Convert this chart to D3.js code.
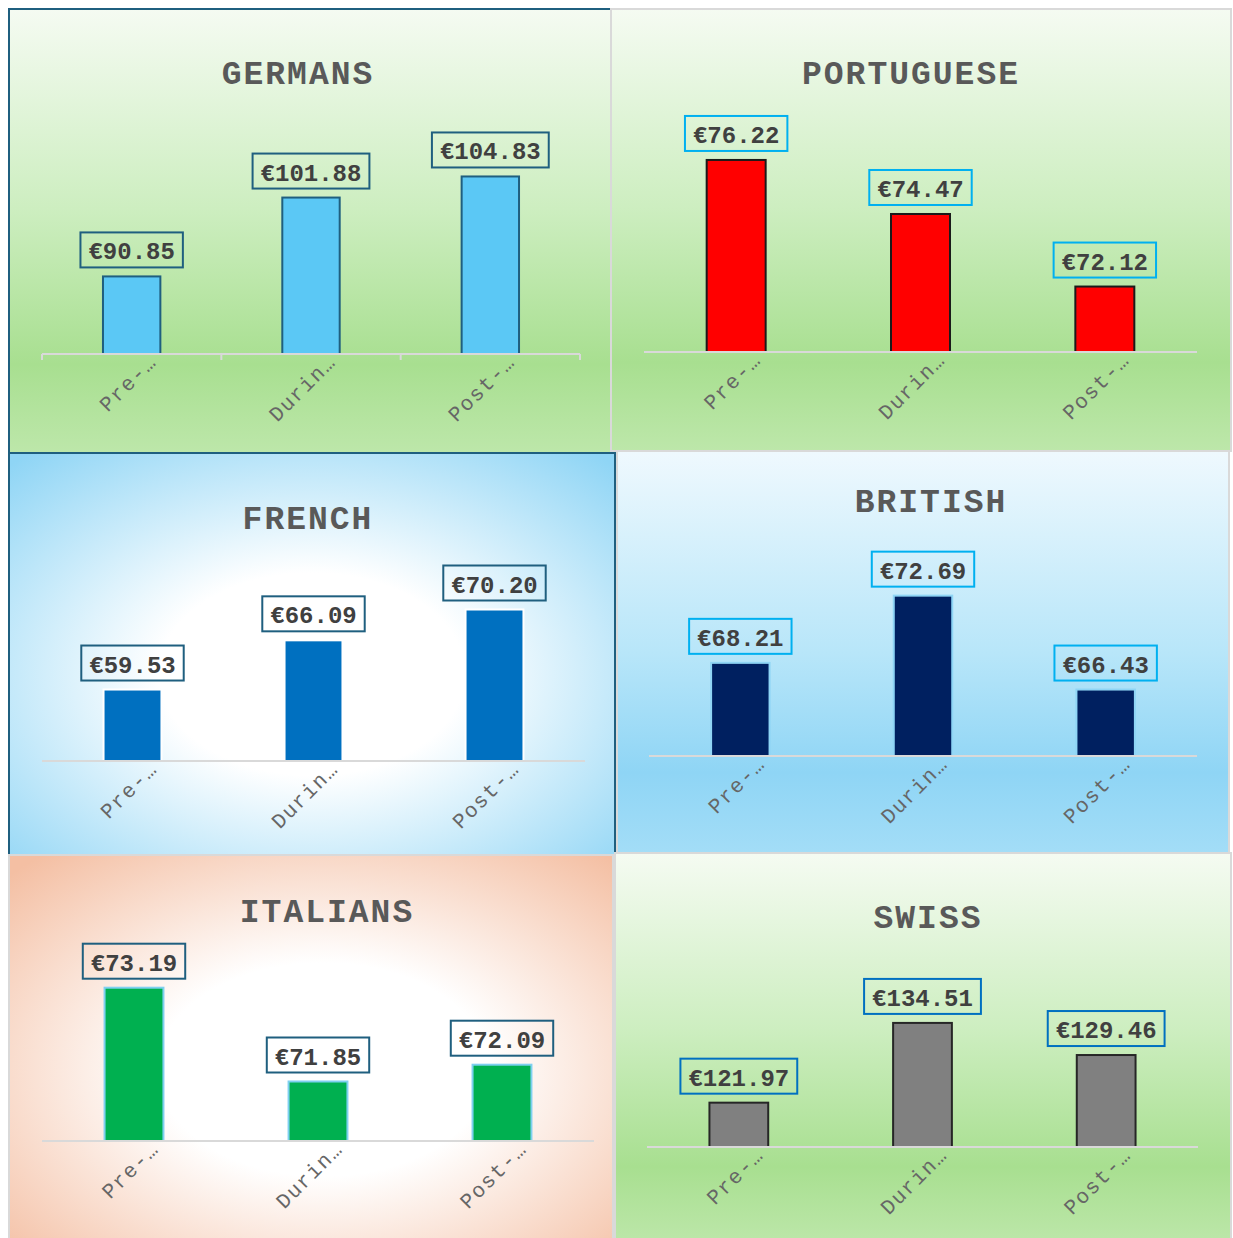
<!DOCTYPE html>
<html>
<head>
<meta charset="utf-8">
<script src="https://cdn.jsdelivr.net/npm/d3@7"></script>
<style>
  body { margin: 0; background: #ffffff; }
  svg { display: block; }
</style>
</head>
<body>
<div id="chartDiv"></div>
<script>
// chart values
var categories = ["Pre-…", "Durin…", "Post-…"];
var panelTitles = ["GERMANS", "PORTUGUESE", "FRENCH", "BRITISH", "ITALIANS", "SWISS"];
var germans = [90.85, 101.88, 104.83];
var portuguese = [76.22, 74.47, 72.12];
var french = [59.53, 66.09, 70.20];
var british = [68.21, 72.69, 66.43];
var italians = [73.19, 71.85, 72.09];
var swiss = [121.97, 134.51, 129.46];
var axisMin = [80, 70, 50, 62, 71, 115];
var axisMax = [110, 78, 75, 74, 73.5, 140];

var seriesList = [germans, portuguese, french, british, italians, swiss];

// layout of each panel (frame, plot area, title position) and look
var panels = [
  { frame: [9, 9, 602, 444], border: "#1f5f7f", bg: "gGreen", plot: [42, 580, 139.5, 354], title: [298, 84],
    fill: "#5bc8f5", stroke: "#1f5f7f", boxStroke: "#1f5f7f", ticks: true },
  { frame: [611, 9, 620, 442], border: "#d9d9d9", bg: "gGreen", plot: [644, 1197, 105, 352], title: [911, 84],
    fill: "#ff0000", stroke: "#1a1a1a", boxStroke: "#00b0f0", ticks: false },
  { frame: [9, 453, 606, 402], border: "#1f5f7f", bg: "gFrench", plot: [42, 585, 573.5, 761], title: [308, 529],
    fill: "#0070c0", stroke: "#ffffff", boxStroke: "#1f5f7f", ticks: false },
  { frame: [617, 451, 612, 402], border: "#d9d9d9", bg: "gBlue", plot: [649, 1197, 576, 756], title: [931, 512],
    fill: "#002060", stroke: "#8fd5f5", boxStroke: "#00b0f0", ticks: false },
  { frame: [9, 855, 604, 390], border: "#d9d9d9", bg: "gItaly", plot: [42, 594, 966, 1141], title: [327, 922],
    fill: "#00b050", stroke: "#7fd0f0", boxStroke: "#1f5f7f", ticks: false },
  { frame: [615, 853, 616, 392], border: "#d9d9d9", bg: "gGreen", plot: [647, 1198, 988, 1147], title: [928, 928],
    fill: "#808080", stroke: "#262626", boxStroke: "#0070c0", ticks: false }
];

var svgWidth = 1233;
var svgHeight = 1238;
var monoFont = "'Courier New', 'Liberation Mono', monospace";

var svg = d3.select('#chartDiv')
            .append('svg')
            .attr('width', svgWidth)
            .attr('height', svgHeight);

// Backgrounds
var defs = svg.append('defs');

function linearBg(id, stops) {
    var g = defs.append('linearGradient')
                .attr('id', id)
                .attr('x1', 0).attr('y1', 0).attr('x2', 0).attr('y2', 1);
    stops.forEach(function(s) {
        g.append('stop').attr('offset', s[0]).attr('stop-color', s[1]);
    });
}
function radialBg(id, cx, cy, r, stops) {
    var g = defs.append('radialGradient')
                .attr('id', id)
                .attr('cx', cx).attr('cy', cy).attr('r', r);
    stops.forEach(function(s) {
        g.append('stop').attr('offset', s[0]).attr('stop-color', s[1]);
    });
}
linearBg('gGreen', [[0, "#f5fbf2"], [0.45, "#cdeec0"], [0.8, "#a8df90"], [1, "#bde7aa"]]);
linearBg('gBlue', [[0, "#eff9fe"], [0.5, "#b8e6f9"], [0.8, "#8fd5f5"], [1, "#a3ddf7"]]);
radialBg('gFrench', 0.5, 0.55, 0.72, [[0, "#ffffff"], [0.35, "#ffffff"], [1, "#8fd5f5"]]);
radialBg('gItaly', 0.52, 0.55, 0.72, [[0, "#ffffff"], [0.38, "#ffffff"], [1, "#f4bfa3"]]);

panels.forEach(function(p, i) {
    var values = seriesList[i];
    var g = svg.append('g').attr('class', 'panel');

    // frame
    g.append('rect')
     .attr('x', p.frame[0]).attr('y', p.frame[1])
     .attr('width', p.frame[2]).attr('height', p.frame[3])
     .attr('fill', 'url(#' + p.bg + ')')
     .attr('stroke', p.border)
     .attr('stroke-width', 2);

    // title
    g.append('text')
     .attr('x', p.title[0]).attr('y', p.title[1])
     .attr('text-anchor', 'middle')
     .style('font-family', monoFont)
     .style('font-weight', 'bold')
     .style('font-size', '33px')
     .style('letter-spacing', '2px')
     .style('fill', '#595959')
     .text(panelTitles[i]);

    var x = d3.scaleBand()
              .domain(categories)
              .range([p.plot[0], p.plot[1]])
              .paddingInner(0.68)
              .paddingOuter(0.34);
    var y = d3.scaleLinear()
              .domain([axisMin[i], axisMax[i]])
              .range([p.plot[3], p.plot[2]]);

    // bars
    g.selectAll('.bar')
     .data(values)
     .enter()
     .append('rect')
     .attr('class', 'bar')
     .attr('x', function(d, j) { return x(categories[j]); })
     .attr('y', function(d) { return y(d); })
     .attr('width', x.bandwidth())
     .attr('height', function(d) { return y(axisMin[i]) - y(d); })
     .attr('fill', p.fill)
     .attr('stroke', p.stroke)
     .attr('stroke-width', 2);

    // x axis line
    var axisY = y(axisMin[i]);
    g.append('line')
     .attr('x1', p.plot[0]).attr('x2', p.plot[1])
     .attr('y1', axisY).attr('y2', axisY)
     .attr('stroke', '#d9d9d9')
     .attr('stroke-width', 2);

    if (p.ticks) {
        var tickXs = categories.map(function(c) { return x(c) - x.step() * x.paddingInner() / 2; });
        tickXs.push(p.plot[1]);
        g.selectAll('.tick')
         .data(tickXs)
         .enter()
         .append('line')
         .attr('x1', function(d) { return d; })
         .attr('x2', function(d) { return d; })
         .attr('y1', axisY).attr('y2', axisY + 6)
         .attr('stroke', '#d9d9d9')
         .attr('stroke-width', 2);
    }

    // category labels
    g.selectAll('.cat')
     .data(categories)
     .enter()
     .append('text')
     .attr('class', 'cat')
     .attr('text-anchor', 'end')
     .attr('transform', function(c) {
         var cx = x(c) + x.bandwidth() / 2 + 26;
         return 'translate(' + cx + ',' + (axisY + 9) + ') rotate(-45)';
     })
     .style('font-family', monoFont)
     .style('font-size', '21px')
     .style('letter-spacing', '1.5px')
     .style('fill', '#666666')
     .text(function(c) { return c; });

    // data labels with boxes
    var labels = g.selectAll('.lbl')
                  .data(values)
                  .enter()
                  .append('g')
                  .attr('class', 'lbl');
    labels.append('rect');
    labels.append('text')
          .attr('x', function(d, j) { return x(categories[j]) + x.bandwidth() / 2; })
          .attr('y', function(d) { return y(d) - 17; })
          .attr('text-anchor', 'middle')
          .style('font-family', monoFont)
          .style('font-weight', 'bold')
          .style('font-size', '24px')
          .style('fill', '#404040')
          .text(function(d) { return '€' + d3.format('.2f')(d); });
    labels.each(function(d) {
        var t = d3.select(this).select('text');
        var w = t.node().getComputedTextLength() + 16;
        var cx = +t.attr('x');
        d3.select(this).select('rect')
          .attr('x', cx - w / 2)
          .attr('y', y(d) - 44)
          .attr('width', w)
          .attr('height', 35)
          .attr('fill', 'none')
          .attr('stroke', p.boxStroke)
          .attr('stroke-width', 2);
    });
});
</script>
</body>
</html>
